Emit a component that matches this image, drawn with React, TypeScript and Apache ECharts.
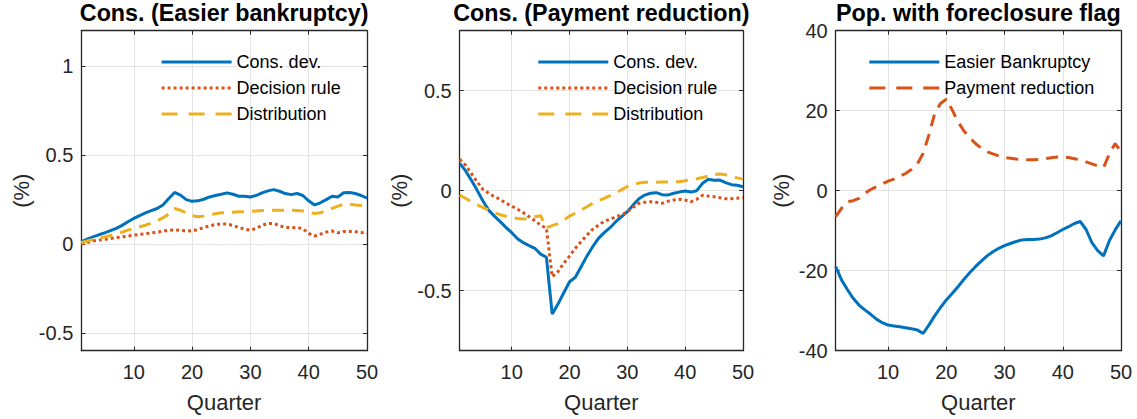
import React, { useEffect, useRef } from 'react'
import * as echarts from 'echarts'

// Quarter axis and tick values
const QUARTERS = [
  1, 2, 3, 4, 5, 6, 7, 8, 9, 10, 11, 12, 13, 14, 15, 16, 17, 18, 19, 20, 21, 22, 23, 24, 25,
  26, 27, 28, 29, 30, 31, 32, 33, 34, 35, 36, 37, 38, 39, 40, 41, 42, 43, 44, 45, 46, 47, 48, 49, 50,
]
const X_TICKS = [10, 20, 30, 40, 50]
const Y_TICKS_EB = [-0.5, 0, 0.5, 1]
const Y_TICKS_PR = [-0.5, 0, 0.5]
const Y_TICKS_POP = [-40, -20, 0, 20, 40]

const TITLES = ['Cons. (Easier bankruptcy)', 'Cons. (Payment reduction)', 'Pop. with foreclosure flag']

// Panel 1: Cons. (Easier bankruptcy)
const EB_CONS_DEV = [
  0.013, 0.027, 0.04, 0.052, 0.063, 0.075, 0.088, 0.105, 0.125, 0.144,
  0.16, 0.175, 0.188, 0.2, 0.22, 0.256, 0.29, 0.275, 0.25, 0.24,
  0.243, 0.252, 0.265, 0.273, 0.28, 0.288, 0.28, 0.269, 0.269, 0.265,
  0.273, 0.288, 0.299, 0.306, 0.297, 0.284, 0.278, 0.284, 0.273, 0.243,
  0.22, 0.232, 0.25, 0.269, 0.265, 0.288, 0.29, 0.284, 0.273, 0.258,
]
const EB_DECISION = [
  0.0, 0.009, 0.017, 0.022, 0.026, 0.031, 0.036, 0.04, 0.045, 0.05,
  0.054, 0.058, 0.062, 0.067, 0.072, 0.077, 0.08, 0.077, 0.075, 0.073,
  0.082, 0.093, 0.102, 0.11, 0.112, 0.112, 0.105, 0.093, 0.084, 0.078,
  0.088, 0.105, 0.116, 0.116, 0.103, 0.093, 0.092, 0.093, 0.086, 0.06,
  0.045, 0.056, 0.067, 0.073, 0.063, 0.071, 0.071, 0.069, 0.065, 0.06,
]
const EB_DISTRIBUTION = [
  0.007, 0.017, 0.026, 0.033, 0.04, 0.048, 0.056, 0.067, 0.078, 0.088,
  0.097, 0.106, 0.118, 0.13, 0.148, 0.168, 0.2, 0.19, 0.176, 0.16,
  0.153, 0.157, 0.164, 0.17, 0.176, 0.177, 0.179, 0.181, 0.182, 0.183,
  0.186, 0.189, 0.19, 0.19, 0.19, 0.19, 0.19, 0.189, 0.186, 0.181,
  0.172, 0.176, 0.187, 0.2, 0.213, 0.224, 0.224, 0.22, 0.217, 0.21,
]

// Panel 2: Cons. (Payment reduction)
const PR_CONS_DEV = [
  0.137, 0.1, 0.053, 0.003, -0.05, -0.097, -0.127, -0.155, -0.183, -0.21,
  -0.24, -0.26, -0.275, -0.288, -0.317, -0.333, -0.617, -0.567, -0.51, -0.455,
  -0.433, -0.38, -0.327, -0.28, -0.238, -0.21, -0.185, -0.155, -0.13, -0.105,
  -0.072, -0.04, -0.022, -0.013, -0.01, -0.02, -0.022, -0.013, -0.007, -0.002,
  -0.007, 0.0, 0.037, 0.057, 0.052, 0.053, 0.04, 0.03, 0.027, 0.02,
]
const PR_DECISION = [
  0.157, 0.128, 0.087, 0.045, 0.007, -0.013, -0.03, -0.043, -0.063, -0.077,
  -0.093, -0.11, -0.13, -0.15, -0.172, -0.188, -0.43, -0.405, -0.363, -0.327,
  -0.288, -0.255, -0.222, -0.193, -0.172, -0.153, -0.143, -0.13, -0.122, -0.105,
  -0.083, -0.063, -0.058, -0.055, -0.058, -0.063, -0.053, -0.047, -0.043, -0.047,
  -0.055, -0.043, -0.023, -0.027, -0.03, -0.035, -0.04, -0.04, -0.038, -0.035,
]
const PR_DISTRIBUTION = [
  -0.022, -0.038, -0.055, -0.07, -0.083, -0.097, -0.11, -0.12, -0.128, -0.134,
  -0.139, -0.142, -0.138, -0.13, -0.125, -0.185, -0.175, -0.165, -0.147, -0.127,
  -0.112, -0.097, -0.08, -0.063, -0.05, -0.038, -0.025, -0.012, 0.005, 0.02,
  0.032, 0.038, 0.042, 0.042, 0.042, 0.043, 0.043, 0.044, 0.045, 0.05,
  0.055, 0.06, 0.066, 0.073, 0.08, 0.083, 0.08, 0.072, 0.064, 0.058,
]

// Panel 3: Pop. with foreclosure flag
const POP_EASIER = [
  -19, -22.3, -24.7, -26.9, -28.6, -29.8, -30.9, -32.1, -33, -33.6,
  -33.8, -34, -34.25, -34.5, -34.8, -35.7, -33.6, -31.3, -29.2, -27.3,
  -25.7, -24, -22.2, -20.5, -19, -17.6, -16.3, -15.25, -14.4, -13.75,
  -13.2, -12.7, -12.3, -12.2, -12.2, -12.1, -11.8, -11.3, -10.5, -9.7,
  -9, -8.2, -7.7, -9.7, -13, -15, -16.3, -12.5, -9.8, -7.5,
]
const POP_PAYMENT = [
  -6.5, -4.4, -2.75, -2.5, -1.9, -0.7, 0.3, 1, 1.7, 2.4,
  2.9, 3.6, 4.3, 5.3, 6.6, 9.3, 13.9, 19.3, 21.8, 22.9,
  20.2, 17.25, 15, 13.25, 11.8, 10.6, 9.75, 9.2, 8.7, 8.3,
  8.1, 7.9, 7.8, 7.75, 7.75, 7.8, 8, 8.25, 8.4, 8.5,
  8.3, 8, 7.7, 7.2, 6.7, 6.2, 5.8, 9.2, 11.8, 9.75,
]

const BLUE = '#0072BD'
const ORANGE = '#D95319'
const YELLOW = '#EDB120'
const AXIS_COLOR = '#262626'
const GRID_COLOR = '#e3e3e3'
const FONT = '"Liberation Sans", Arial, Helvetica, sans-serif'

// plot boxes in px
const PANELS = [
  { left: 81.3, width: 285.7, yMin: -0.6, yMax: 1.2, yTicks: Y_TICKS_EB, nameGap: 49, legendLeft: 160 },
  { left: 459.7, width: 283.3, yMin: -0.8, yMax: 0.8, yTicks: Y_TICKS_PR, nameGap: 49, legendLeft: 536.7 },
  { left: 835.7, width: 285.3, yMin: -40, yMax: 40, yTicks: Y_TICKS_POP, nameGap: 43, legendLeft: 867.7 },
]
const PLOT_TOP = 30.7
const PLOT_HEIGHT = 320

const pairs = (vals: number[]) => vals.map((v, i) => [QUARTERS[i], v])

const App: React.FC = () => {
  const chartRef = useRef<HTMLDivElement>(null)

  useEffect(() => {
    if (!chartRef.current) return
    const chart = echarts.init(chartRef.current, null, { renderer: 'svg' })

    const grid: any[] = []
    const xAxis: any[] = []
    const yAxis: any[] = []
    const title: any[] = []

    PANELS.forEach((p, g) => {
      grid.push({ left: p.left, top: PLOT_TOP, width: p.width, height: PLOT_HEIGHT, containLabel: false })
      title.push({
        text: TITLES[g],
        left: p.left + p.width / 2,
        top: 1,
        padding: 0,
        textAlign: 'center',
        textStyle: { fontFamily: FONT, fontSize: 23.3, fontWeight: 'bold', color: '#000' },
      })
      const tick = (vals: number[]) => ({
        show: true,
        inside: true,
        length: 4,
        customValues: vals,
        lineStyle: { color: AXIS_COLOR, width: 1 },
      })
      const line = { show: true, onZero: false, lineStyle: { color: AXIS_COLOR, width: 1.3 } }
      xAxis.push({
        gridIndex: g,
        type: 'value',
        position: 'bottom',
        min: 1,
        max: 50,
        axisLine: line,
        axisTick: tick(X_TICKS),
        axisLabel: { customValues: X_TICKS, fontFamily: FONT, fontSize: 20, color: AXIS_COLOR, margin: 11 },
        splitLine: { show: true, lineStyle: { color: GRID_COLOR, width: 1 } },
        name: 'Quarter',
        nameLocation: 'middle',
        nameGap: 41,
        nameTextStyle: { fontFamily: FONT, fontSize: 22, color: AXIS_COLOR },
      })
      xAxis.push({
        gridIndex: g,
        type: 'value',
        position: 'top',
        min: 1,
        max: 50,
        axisLine: line,
        axisTick: tick(X_TICKS),
        axisLabel: { show: false },
        splitLine: { show: false },
      })
      yAxis.push({
        gridIndex: g,
        type: 'value',
        position: 'left',
        min: p.yMin,
        max: p.yMax,
        axisLine: line,
        axisTick: tick(p.yTicks),
        axisLabel: { customValues: p.yTicks, fontFamily: FONT, fontSize: 20, color: AXIS_COLOR, margin: 8 },
        splitLine: { show: true, lineStyle: { color: GRID_COLOR, width: 1 } },
        name: '(%)',
        nameLocation: 'middle',
        nameGap: p.nameGap,
        nameRotate: 90,
        nameTextStyle: { fontFamily: FONT, fontSize: 22, color: AXIS_COLOR },
      })
      yAxis.push({
        gridIndex: g,
        type: 'value',
        position: 'right',
        min: p.yMin,
        max: p.yMax,
        axisLine: line,
        axisTick: tick(p.yTicks),
        axisLabel: { show: false },
        splitLine: { show: false },
      })
    })

    const mk = (name: string, g: number, vals: number[], color: string, type: any) => ({
      name,
      type: 'line',
      xAxisIndex: g * 2,
      yAxisIndex: g * 2,
      data: pairs(vals),
      showSymbol: false,
      symbol: 'none',
      z: 3,
      lineStyle: { color, width: 3, type, cap: 'butt' },
      itemStyle: { color },
    })

    const DOT = [3, 3]
    const DASH = [12, 8]
    const LEGEND_DASH = { lineStyle: { type: [16, 11] } }

    const series = [
      mk('Cons. dev.', 0, EB_CONS_DEV, BLUE, 'solid'),
      mk('Decision rule', 0, EB_DECISION, ORANGE, DOT),
      mk('Distribution', 0, EB_DISTRIBUTION, YELLOW, DASH),
      mk('Cons. dev. ', 1, PR_CONS_DEV, BLUE, 'solid'),
      mk('Decision rule ', 1, PR_DECISION, ORANGE, DOT),
      mk('Distribution ', 1, PR_DISTRIBUTION, YELLOW, DASH),
      mk('Easier Bankruptcy', 2, POP_EASIER, BLUE, 'solid'),
      mk('Payment reduction', 2, POP_PAYMENT, ORANGE, DASH),
    ]

    const legendBase = {
      orient: 'vertical',
      top: 53,
      padding: 0,
      itemWidth: 70,
      itemHeight: 18,
      itemGap: 8,
      selectedMode: false,
      itemStyle: { opacity: 0 },
      lineStyle: { width: 3.2 },
      textStyle: { fontFamily: FONT, fontSize: 18, color: '#000' },
    }
    const legend = [
      {
        ...legendBase,
        left: PANELS[0].legendLeft,
        data: ['Cons. dev.', 'Decision rule', { name: 'Distribution', ...LEGEND_DASH }],
      },
      {
        ...legendBase,
        left: PANELS[1].legendLeft,
        data: ['Cons. dev. ', 'Decision rule ', { name: 'Distribution ', ...LEGEND_DASH }],
      },
      {
        ...legendBase,
        left: PANELS[2].legendLeft,
        data: ['Easier Bankruptcy', { name: 'Payment reduction', ...LEGEND_DASH }],
      },
    ]

    chart.setOption({
      animation: false,
      backgroundColor: '#fff',
      title,
      grid,
      xAxis,
      yAxis,
      legend,
      series,
    })

    return () => {
      chart.dispose()
    }
  }, [])

  return (
    <div
      ref={chartRef}
      style={{ position: 'fixed', left: 0, top: 0, width: '1137px', height: '419px' }}
    />
  )
}

export default App
